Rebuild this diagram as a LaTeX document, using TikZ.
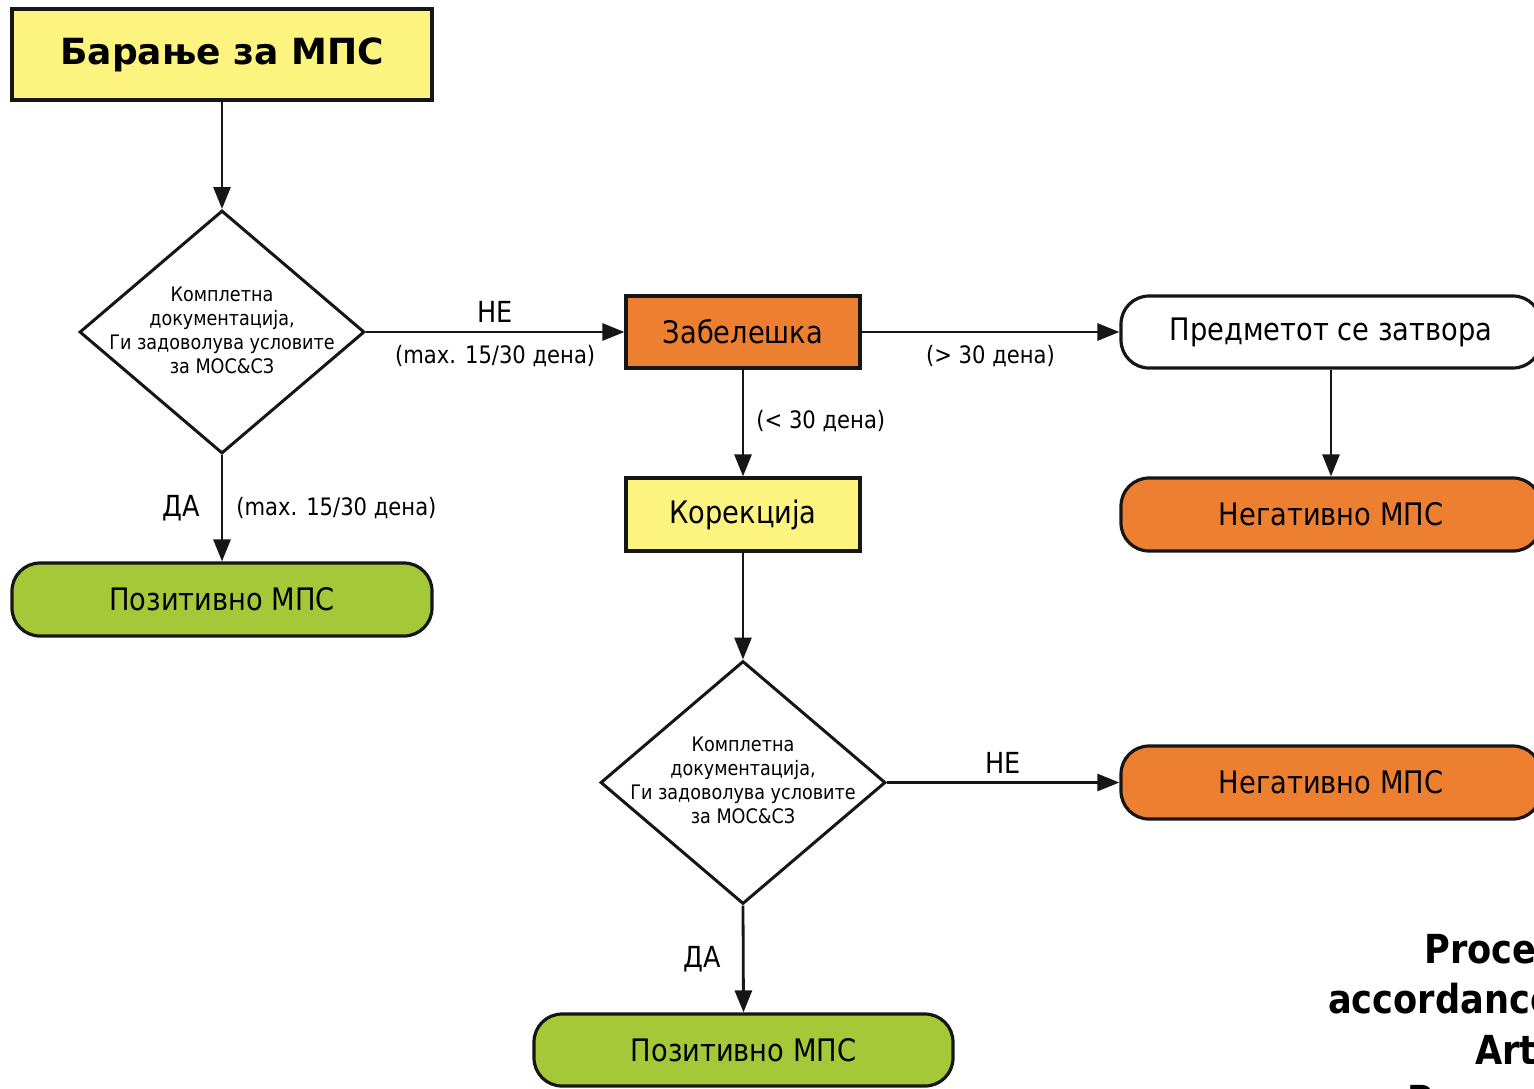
\documentclass[tikz,border=0pt]{standalone}
\usepackage{fontspec}
\setmainfont{DejaVu Sans}[FakeStretch=0.88]
\newfontfamily\titlefam{DejaVu Sans}
\usetikzlibrary{shapes.geometric,arrows.meta}
\definecolor{ylw}{RGB}{253,244,128}
\definecolor{org}{RGB}{237,128,48}
\definecolor{grn}{RGB}{165,200,56}
\definecolor{ink}{RGB}{22,22,22}
\tikzset{
  box/.style={draw=ink, line width=3.2pt, rectangle, inner sep=0pt, font=\fontsize{31}{35}\selectfont},
  term/.style={box, rounded corners=28pt},
  dia/.style={draw=ink, line width=3pt, diamond, inner sep=0pt, minimum width=285pt, minimum height=243pt},
  diatext/.style={align=center, font=\fontsize{20}{24}\selectfont, inner sep=0pt},
  conn/.style={draw=ink, line width=2.8pt, -{Triangle[length=22pt,width=17pt]}},
  yes/.style={font=\fontsize{29}{33}\selectfont, inner sep=0pt},
  note/.style={font=\fontsize{24}{28}\selectfont, inner sep=0pt},
  eng/.style={font=\bfseries\fontsize{40}{48}\selectfont, anchor=base west, inner sep=0pt}
}
\begin{document}
\begin{tikzpicture}[x=1pt,y=-1pt]
\useasboundingbox (0,0) rectangle (1534,1088);
\clip (0,0) rectangle (1534,1088);
\fill[white] (0,0) rectangle (1534,1088);

\node[box, fill=ylw, minimum width=420pt, minimum height=91pt, font=\titlefam\bfseries\fontsize{36}{42}\selectfont] (req) at (222,54.5) {Барање за МПС};

\node[dia] (d1) at (222,332) {};
\node[diatext] (d1t) at (222,330) {Комплетна\\документација,\\Ги задоволува условите\\за МОС\&СЗ};

\node[box, fill=org, minimum width=234pt, minimum height=72pt] (zab) at (743,332) {Забелешка};
\node[term, fill=white, minimum width=420pt, minimum height=72pt] (pred) at (1331,332) {Предметот се затвора};
\node[term, fill=org, minimum width=420pt, minimum height=73pt] (neg1) at (1331,514.5) {Негативно МПС};
\node[box, fill=ylw, minimum width=234pt, minimum height=73pt] (kor) at (743,514.5) {Корекција};
\node[term, fill=grn, minimum width=420pt, minimum height=73pt] (poz1) at (222,599.5) {Позитивно МПС};

\node[dia] (d2) at (743,782.5) {};
\node[diatext] (d2t) at (743,780) {Комплетна\\документација,\\Ги задоволува условите\\за МОС\&СЗ};

\node[term, fill=org, minimum width=420pt, minimum height=73pt] (neg2) at (1331,782.5) {Негативно МПС};
\node[term, fill=grn, minimum width=419pt, minimum height=72pt] (poz2) at (743.5,1050) {Позитивно МПС};

\draw[conn] (req.south) -- (d1.north);
\draw[conn] (d1.east) -- node[yes, above=8pt] (l1) {НЕ} node[note, below=12pt] (l2) {(max. 15/30 дена)} (zab.west);
\draw[conn] (zab.east) -- node[note, below=12pt] (l3) {(> 30 дена)} (pred.west);
\draw[conn] (pred.south) -- (neg1.north);
\draw[conn] (zab.south) -- node[note, right=12pt, pos=0.48] (l4) {(< 30 дена)} (kor.north);
\draw[conn] (kor.south) -- (d2.north);
\draw[conn] (d1.south) -- node[yes, left=21pt, pos=0.5] (l5) {ДА} node[note, right=13pt, pos=0.5] (l6) {(max. 15/30 дена)} (poz1.north);
\draw[conn] (d2.east) -- node[yes, above=8pt] (l7) {НЕ} (neg2.west);
\draw[conn] (d2.south) -- node[yes, left=21pt, pos=0.5] (l8) {ДА} (poz2.north);

\node[eng] (e1) at (1424,963) {Procedure in};
\node[eng] (e2) at (1328,1013) {accordance with};
\node[eng] (e3) at (1475,1064) {Article};
\node[eng] (e4) at (1407,1114) {Paragraph};
\end{tikzpicture}
\end{document}
